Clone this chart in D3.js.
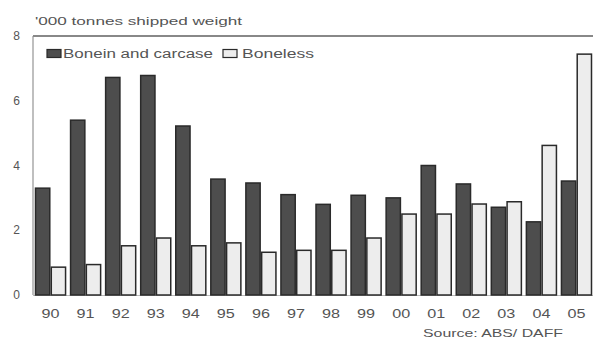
<!DOCTYPE html>
<html>
<head>
<meta charset="utf-8">
<script src="https://cdn.jsdelivr.net/npm/d3@7"></script>
<style>
  html, body { margin: 0; padding: 0; background: #fff; }
  svg text { font-family: "Liberation Sans", Arial, sans-serif; fill: #555; }
</style>
</head>
<body>
<svg id="chart" width="593" height="340"></svg>
<script>
// Australian beef exports, '000 tonnes shipped weight
const years = ["90","91","92","93","94","95","96","97","98","99","00","01","02","03","04","05"];
const boneinCarcase = [3.3, 5.4, 6.72, 6.78, 5.22, 3.58, 3.46, 3.1, 2.8, 3.08, 3.0, 4.0, 3.43, 2.71, 2.26, 3.52];
const boneless      = [0.86, 0.94, 1.52, 1.76, 1.52, 1.61, 1.32, 1.38, 1.38, 1.76, 2.5, 2.5, 2.81, 2.88, 4.62, 7.44];
const seriesNames = ["Bonein and carcase", "Boneless"];
const yTicks = [0, 2, 4, 6, 8];

const svg = d3.select("#chart");
const plot = { left: 33, right: 594, top: 36, bottom: 295 };

const x = d3.scaleBand().domain(years).range([plot.left, plot.right])
  .paddingInner(0.1).paddingOuter(0.05);
const x1 = d3.scaleBand().domain(seriesNames).range([0, x.bandwidth()]);
const y = d3.scaleLinear().domain([0, 8]).range([plot.bottom, plot.top]);

const fills = { "Bonein and carcase": "#4d4d4d", "Boneless": "#ededed" };
const strokes = { "Bonein and carcase": "#2a2a2a", "Boneless": "#2a2a2a" };

// frame: left axis and top rule
svg.append("line").attr("x1", plot.left).attr("x2", plot.left)
  .attr("y1", y(8)).attr("y2", y(0)).attr("stroke", "#aaa").attr("stroke-width", 1.5);
svg.append("line").attr("x1", plot.left).attr("x2", 593)
  .attr("y1", y(8)).attr("y2", y(8)).attr("stroke", "#888").attr("stroke-width", 2);
svg.append("line").attr("x1", plot.left).attr("x2", 593)
  .attr("y1", y(0) + 0.5).attr("y2", y(0) + 0.5).attr("stroke", "#bbb").attr("stroke-width", 1);

// y tick labels
svg.append("g").selectAll("text").data(yTicks).join("text")
  .attr("x", 16.5).attr("y", d => y(d)).attr("dy", "0.35em")
  .attr("text-anchor", "middle").attr("font-size", 12)
  .text(d => d);

// bars
const rows = years.map((yr, i) => ({ yr, vals: [
  { key: seriesNames[0], v: boneinCarcase[i] },
  { key: seriesNames[1], v: boneless[i] } ] }));

svg.append("g").selectAll("g").data(rows).join("g")
  .attr("transform", d => `translate(${x(d.yr)},0)`)
  .selectAll("rect").data(d => d.vals).join("rect")
  .attr("x", d => x1(d.key) + 0.75)
  .attr("width", x1.bandwidth() - 1.5)
  .attr("y", d => y(d.v))
  .attr("height", d => y(0) - y(d.v))
  .attr("fill", d => fills[d.key])
  .attr("stroke", d => strokes[d.key])
  .attr("stroke-width", 1.5);

// x labels
svg.append("g").selectAll("text").data(years).join("text")
  .attr("x", d => x(d) + x.bandwidth() / 2).attr("y", 318)
  .attr("text-anchor", "middle").attr("font-size", 12)
  .attr("textLength", 18).attr("lengthAdjust", "spacingAndGlyphs")
  .text(d => d);

// axis title
svg.append("text").attr("x", 35).attr("y", 25).attr("font-size", 11.5)
  .attr("textLength", 207).attr("lengthAdjust", "spacingAndGlyphs")
  .text("'000 tonnes shipped weight");

// legend
const legend = [
  { key: seriesNames[0], x: 47, tx: 63, len: 150 },
  { key: seriesNames[1], x: 223, tx: 242, len: 72 }
];
const lg = svg.append("g");
lg.selectAll("rect").data(legend).join("rect")
  .attr("x", d => d.x).attr("y", 49.5).attr("width", 14).attr("height", 8)
  .attr("fill", d => fills[d.key]).attr("stroke", d => strokes[d.key]).attr("stroke-width", 1.2);
lg.selectAll("text").data(legend).join("text")
  .attr("x", d => d.tx).attr("y", 58).attr("font-size", 12.5)
  .attr("textLength", d => d.len).attr("lengthAdjust", "spacingAndGlyphs")
  .attr("fill", "#3a3a3a")
  .text(d => d.key);

// source note
svg.append("text").attr("x", 423).attr("y", 337).attr("font-size", 11)
  .attr("textLength", 140).attr("lengthAdjust", "spacingAndGlyphs")
  .text("Source: ABS/ DAFF");
</script>
</body>
</html>
